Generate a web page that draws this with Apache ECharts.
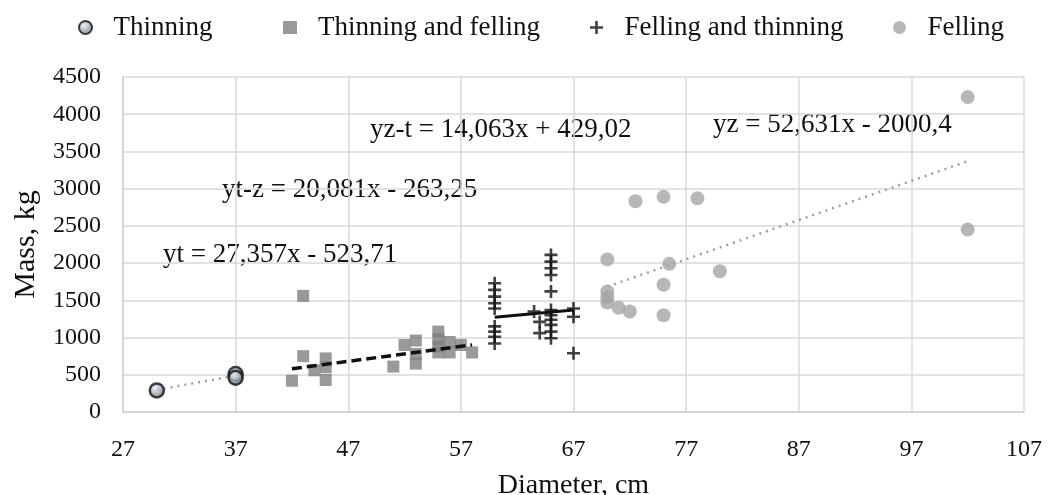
<!DOCTYPE html>
<html>
<head>
<meta charset="utf-8">
<title>Mass vs diameter</title>
<script src="https://cdn.jsdelivr.net/npm/echarts@6/dist/echarts.min.js"></script>
<style>
  html, body { margin: 0; padding: 0; background: #fff; }
  #chart { width: 1048px; height: 495px; }
</style>
</head>
<body>
<div id="chart"></div>
<script>
// diameter (cm), mass (kg)
var thinning = [[30, 290], [37, 510], [37, 460]];
var thinningFelling = [
  [42, 420], [43, 1560], [43, 750], [44, 560], [45, 720], [45, 600], [45, 430],
  [51, 610], [52, 900], [53, 960], [53, 780], [53, 650],
  [55, 1080], [55, 980], [55, 880], [55, 800], [56, 940], [56, 800], [57, 900], [58, 800]
];
var fellingThinning = [
  [60, 1730], [60, 1640], [60, 1550], [60, 1460], [60, 1390], [60, 1150], [60, 1080], [60, 1010], [60, 920],
  [63.5, 1350], [64, 1210], [64, 1060],
  [65, 2110], [65, 2020], [65, 1930], [65, 1840], [65, 1620], [65, 1370], [65, 1300], [65, 1240], [65, 1170], [65, 1080], [65, 990],
  [67, 1390], [67, 1280], [67, 790]
];
var felling = [
  [70, 2050], [70, 1620], [70, 1540], [70, 1470], [71, 1400], [72, 1350], [72.5, 2830],
  [75, 2890], [75, 1710], [75, 1300], [75.5, 1990], [78, 2870], [80, 1890],
  [102, 4230], [102, 2450]
];

// trend lines: [slope, intercept, xFrom, xTo]
var trendThin = [27.357, -523.71, 30, 37];
var trendThinFell = [20.081, -263.25, 42, 58];
var trendFellThin = [14.063, 429.02, 60, 67];
var trendFell = [52.631, -2000.4, 70, 102];

var equations = ['yz-t = 14,063x + 429,02', 'yz = 52,631x - 2000,4', 'yt-z = 20,081x - 263,25', 'yt = 27,357x - 523,71'];
var legendNames = ['Thinning', 'Thinning and felling', 'Felling and thinning', 'Felling'];

var xTicks = { min: 27, max: 107, step: 10 };
var yTicks = { min: 0, max: 4500, step: 500 };

function ends(t) {
  return [[t[2], t[0] * t[2] + t[1]], [t[3], t[0] * t[3] + t[1]]];
}

var serif = '"Liberation Serif", "Times New Roman", serif';
var plusPath = 'path://M4,0 H6 V4 H10 V6 H6 V10 H4 V6 H0 V4 H4 Z';

// one legend per entry so each sits where the picture has it
var legendLeft = [73, 278, 585, 888];
var legends = legendNames.map(function (n, i) {
  return {
    top: 9,
    left: legendLeft[i],
    itemWidth: 14,
    itemHeight: 13,
    textStyle: { fontFamily: serif, fontSize: 27, color: '#111', padding: [0, 0, 0, 16] },
    data: [n]
  };
});

var eqText = function (s, left, top) {
  return { type: 'text', left: left, top: top, style: { text: s, font: '27px ' + serif, fill: '#111' } };
};

var chart = echarts.init(document.getElementById('chart'));

var option = {
  animation: false,
  textStyle: { fontFamily: serif },
  grid: { left: 123, right: 24, top: 77, bottom: 83, outerBoundsMode: 'none' },
  legend: legends,
  xAxis: {
    type: 'value',
    min: xTicks.min, max: xTicks.max, interval: xTicks.step,
    name: 'Diameter, cm',
    nameLocation: 'middle',
    nameGap: 60,
    nameTextStyle: { fontFamily: serif, fontSize: 28, color: '#111' },
    axisLine: { lineStyle: { color: '#d0d0d0', width: 1.5 } },
    axisTick: { show: false },
    axisLabel: { fontFamily: serif, fontSize: 24, color: '#111', margin: 26 },
    splitLine: { lineStyle: { color: '#d9d9d9', width: 1.5 } }
  },
  yAxis: {
    type: 'value',
    min: yTicks.min, max: yTicks.max, interval: yTicks.step,
    name: 'Mass, kg',
    nameLocation: 'middle',
    nameGap: 82,
    nameTextStyle: { fontFamily: serif, fontSize: 30, color: '#111' },
    axisLine: { show: true, lineStyle: { color: '#d0d0d0', width: 1.5 } },
    axisTick: { show: false },
    axisLabel: { fontFamily: serif, fontSize: 24, color: '#111', margin: 22, formatter: function (v) { return String(v); } },
    splitLine: { lineStyle: { color: '#d9d9d9', width: 1.5 } }
  },
  graphic: [
    eqText(equations[0], 370, 116),
    eqText(equations[1], 713, 111),
    eqText(equations[2], 222, 176),
    eqText(equations[3], 163, 241)
  ],
  series: [
    {
      name: legendNames[0], type: 'scatter', data: thinning, symbol: 'circle', symbolSize: 14, z: 5,
      itemStyle: {
        color: { type: 'radial', x: 0.4, y: 0.35, r: 0.7, colorStops: [{ offset: 0, color: '#e8eef4' }, { offset: 1, color: '#5b6b7c' }] },
        borderColor: '#111', borderWidth: 2.5
      }
    },
    {
      name: legendNames[1], type: 'scatter', data: thinningFelling, symbol: 'rect', symbolSize: 12, z: 3,
      itemStyle: { color: '#7f7f7f' }
    },
    {
      name: legendNames[2], type: 'scatter', data: fellingThinning, symbol: plusPath, symbolSize: 13, z: 4,
      itemStyle: { color: '#111' }
    },
    {
      name: legendNames[3], type: 'scatter', data: felling, symbol: 'circle', symbolSize: 14, z: 3,
      itemStyle: { color: '#a5a5a5' }
    },
    {
      type: 'line', data: ends(trendThin), symbol: 'none', z: 2,
      lineStyle: { color: '#a0a0a0', width: 2.5, type: [2, 5] }
    },
    {
      type: 'line', data: ends(trendThinFell), symbol: 'none', z: 6,
      lineStyle: { color: '#111', width: 3.5, type: [10, 5] }
    },
    {
      type: 'line', data: ends(trendFellThin), symbol: 'none', z: 6,
      lineStyle: { color: '#111', width: 3 }
    },
    {
      type: 'line', data: ends(trendFell), symbol: 'none', z: 2,
      lineStyle: { color: '#a0a0a0', width: 2.5, type: [2, 5] }
    }
  ]
};

chart.setOption(option);
</script>
</body>
</html>
